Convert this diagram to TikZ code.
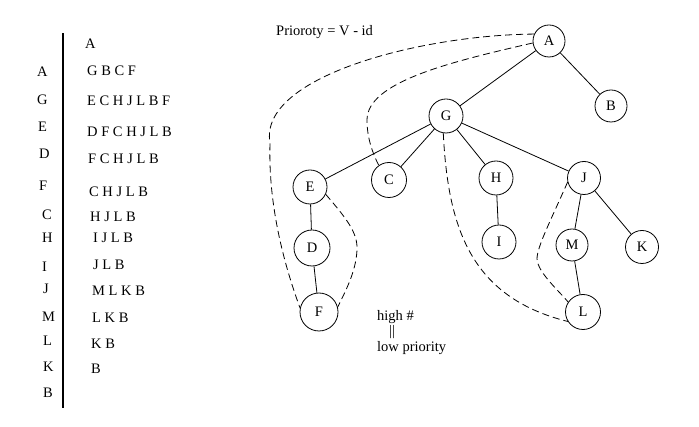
\documentclass[tikz,border=0pt]{standalone}
\usepackage{fontspec}
\setmainfont{Liberation Serif}
\usepackage{tikz}
\usetikzlibrary{positioning}

\begin{document}
\begin{tikzpicture}[line join=bevel,
  vert/.style={draw,circle,line width=0.8bp,minimum size=34bp,inner sep=0pt},
  item/.style={anchor=west,inner sep=0pt},
  tree/.style={line width=0.8bp},
  back/.style={dash pattern=on 7bp off 4bp,line width=0.8bp},
  font=\fontsize{14.5bp}{17bp}\selectfont]
\useasboundingbox (0bp,0bp) rectangle (699bp,427bp);
%%
\draw [line width=1.6bp] (63bp,19bp) -- (63bp,394bp);
  \node (row-A) at (37bp,355bp) [item] {A};
  \node (row-G) at (37bp,327bp) [item] {G};
  \node (row-E) at (38bp,300bp) [item] {E};
  \node (row-D) at (39bp,273bp) [item] {D};
  \node (row-F) at (39bp,241bp) [item] {F};
  \node (row-C) at (42bp,212bp) [item] {C};
  \node (row-H) at (42bp,189bp) [item] {H};
  \node (row-I) at (42bp,160bp) [item] {I};
  \node (row-J) at (43bp,138bp) [item] {J};
  \node (row-M) at (42bp,110bp) [item] {M};
  \node (row-L) at (43bp,86bp) [item] {L};
  \node (row-K) at (43bp,60bp) [item] {K};
  \node (row-B) at (43bp,34bp) [item] {B};
%
  \node (list-A) at (85bp,383bp) [item] {A};
  \node (list-GBCF) at (87bp,356bp) [item] {G B C F};
  \node (list-ECHJLBF) at (87bp,326bp) [item] {E C H J L B F};
  \node (list-DFCHJLB) at (87bp,295bp) [item] {D F C H J L B};
  \node (list-FCHJLB) at (88bp,268bp) [item] {F C H J L B};
  \node (list-CHJLB) at (89bp,235bp) [item] {C H J L B};
  \node (list-HJLB) at (90bp,210bp) [item] {H J L B};
  \node (list-IJLB) at (93bp,189bp) [item] {I J L B};
  \node (list-JLB) at (93bp,162bp) [item] {J L B};
  \node (list-MLKB) at (92bp,136bp) [item] {M L K B};
  \node (list-LKB) at (92bp,109bp) [item] {L K B};
  \node (list-KB) at (91bp,83bp) [item] {K B};
  \node (list-B) at (91bp,58bp) [item] {B};
%
  \node (rule) at (276bp,395bp) [item] {Prioroty = V - id};
  \node (high) at (377bp,110bp) [item] {high \#};
  \node (equal) at (392bp,95bp) [inner sep=0pt] {||};
  \node (low) at (377bp,79bp) [item] {low priority};
%
  \node (A) at (549bp,386bp) [vert,minimum size=32bp] {A};
  \node (B) at (611bp,321bp) [vert,minimum size=32bp] {B};
  \node (G) at (446bp,311bp) [vert] {G};
  \node (E) at (310bp,240bp) [vert] {E};
  \node (C) at (389bp,247bp) [vert,minimum size=35bp] {C};
  \node (H) at (496bp,249bp) [vert] {H};
  \node (J) at (584bp,249bp) [vert,minimum size=33bp] {J};
  \node (D) at (312bp,179bp) [vert,minimum size=36bp] {D};
  \node (I) at (499bp,185bp) [vert] {I};
  \node (M) at (572bp,182bp) [vert,minimum size=32bp] {M};
  \node (K) at (642bp,180bp) [vert,minimum size=33bp] {K};
  \node (F) at (319bp,115bp) [vert,minimum size=38bp] {F};
  \node (L) at (583bp,115bp) [vert,minimum size=35bp] {L};
  \draw [tree] (A) -- (G);
  \draw [tree] (A) -- (B);
  \draw [tree] (G) -- (E);
  \draw [tree] (G) -- (C);
  \draw [tree] (G) -- (H);
  \draw [tree] (G) -- (J);
  \draw [tree] (E) -- (D);
  \draw [tree] (D) -- (F);
  \draw [tree] (H) -- (I);
  \draw [tree] (J) -- (M);
  \draw [tree] (J) -- (K);
  \draw [tree] (M) -- (L);
  \draw [back] (A.155) .. controls (420bp,392bp) and (258bp,350bp) .. (270bp,284bp) .. controls (268bp,220bp) and (285bp,160bp) .. (F.168);
  \draw [back] (A.187) .. controls (450bp,365bp) and (367bp,345bp) .. (367bp,307bp) .. controls (367bp,290bp) and (372bp,275bp) .. (C.125);
  \draw [back] (E.-25) .. controls (345bp,210bp) and (358bp,195bp) .. (357bp,177bp) .. controls (356bp,155bp) and (345bp,135bp) .. (F.15);
  \draw [back] (G.-99) .. controls (448bp,200bp) and (470bp,130bp) .. (L.212);
  \draw [back] (J.194) .. controls (550bp,205bp) and (537bp,180bp) .. (537bp,168bp) .. controls (538bp,155bp) and (555bp,140bp) .. (L.146);
%
\end{tikzpicture}
\end{document}
